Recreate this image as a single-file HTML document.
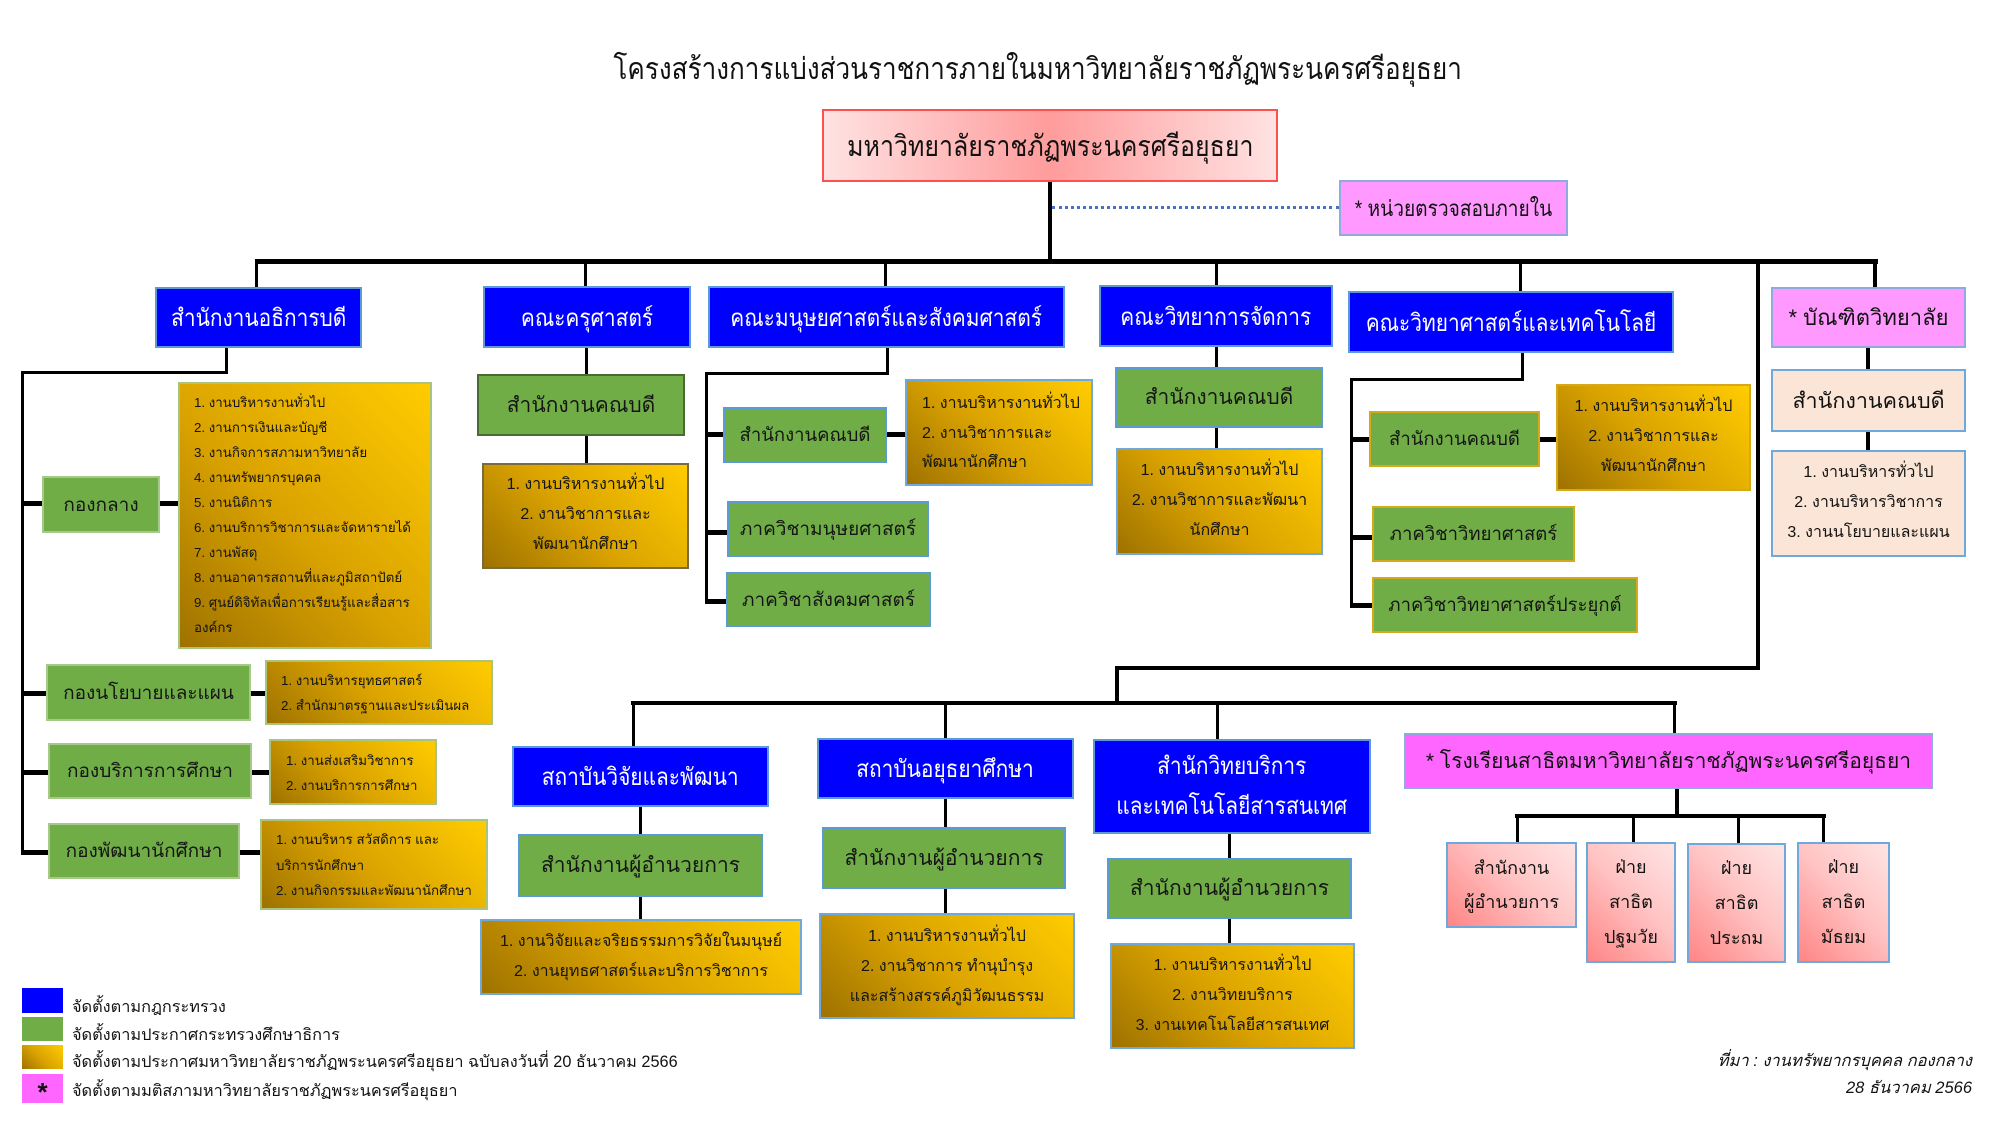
<!DOCTYPE html>
<html><head><meta charset="utf-8">
<style>
*{margin:0;padding:0;box-sizing:border-box}
body{width:2000px;height:1125px;background:#fff;position:relative;overflow:hidden;font-family:"Liberation Sans","Noto Sans CJK SC",sans-serif;color:#111}
.a{position:absolute}
.k{position:absolute;background:#000}
.bx{position:absolute;display:flex;align-items:center;justify-content:center;text-align:center;white-space:nowrap}
.c{display:inline-block;transform:scaleX(.87);transform-origin:center}
.blue{background:#0000ff;border:2px solid #5b9bd5;color:#fff;font-size:24px}
.grn{background:#70ad47;font-size:21px;color:#151515}
.gd{border:2px solid #5b9bd5}
.gk{border:2px solid #4a6b34}
.gg{border:2px solid #d6a81c}
.gl{border:2px solid #a6c98a}
.gold{position:absolute;background:linear-gradient(45deg,#9e7200 0%,#d9a200 45%,#ffcc00 100%);color:#141414;white-space:nowrap}
.pink{background:#ff99ff;border:2px solid #8faadc;font-size:22px;color:#111}
.beige{background:#fbe5d6;border:2px solid #6fa8dc;color:#111}
.sal{background:linear-gradient(45deg,#ff8585 0%,#ffc4c4 55%,#ffe4e4 100%);border:2px solid #6fa8dc;font-size:18px;color:#111;flex-direction:column}
</style></head><body>

<!-- Title -->
<div class="a" style="left:460px;top:48px;width:1156px;text-align:center;font-size:30px;line-height:44px;white-space:nowrap"><span class="c">โครงสร้างการแบ่งส่วนราชการภายในมหาวิทยาลัยราชภัฏพระนครศรีอยุธยา</span></div>

<!-- Main box -->
<div class="bx" style="left:822px;top:109px;width:456px;height:73px;background:linear-gradient(90deg,#ffe2e2 0%,#ff9c9c 50%,#ffe2e2 100%);border:2px solid #ff5050;font-size:29px"><span class="c" style="transform:scaleX(.86)">มหาวิทยาลัยราชภัฏพระนครศรีอยุธยา</span></div>

<div class="k" style="left:1048px;top:182px;width:4px;height:81px"></div>
<div class="a" style="left:1052px;top:206px;width:287px;height:0;border-top:3px dotted #4472c4"></div>
<div class="bx pink" style="left:1339px;top:180px;width:229px;height:56px"><span class="c">* หน่วยตรวจสอบภายใน</span></div>

<!-- top bus -->
<div class="k" style="left:255px;top:259px;width:1623px;height:5px"></div>
<div class="k" style="left:255px;top:261px;width:3px;height:26px"></div>
<div class="k" style="left:584px;top:261px;width:3px;height:25px"></div>
<div class="k" style="left:884px;top:261px;width:3px;height:25px"></div>
<div class="k" style="left:1215px;top:261px;width:3px;height:24px"></div>
<div class="k" style="left:1519px;top:261px;width:3px;height:30px"></div>
<div class="k" style="left:1756px;top:261px;width:4px;height:409px"></div>
<div class="k" style="left:1873px;top:261px;width:4px;height:26px"></div>

<!-- Row 1 boxes -->
<div class="bx blue" style="left:155px;top:287px;width:207px;height:61px"><span class="c">สำนักงานอธิการบดี</span></div>
<div class="bx blue" style="left:483px;top:286px;width:208px;height:62px"><span class="c">คณะครุศาสตร์</span></div>
<div class="bx blue" style="left:708px;top:286px;width:357px;height:62px"><span class="c">คณะมนุษยศาสตร์และสังคมศาสตร์</span></div>
<div class="bx blue" style="left:1099px;top:285px;width:234px;height:62px"><span class="c">คณะวิทยาการจัดการ</span></div>
<div class="bx blue" style="left:1348px;top:291px;width:326px;height:62px"><span class="c">คณะวิทยาศาสตร์และเทคโนโลยี</span></div>
<div class="bx pink" style="left:1771px;top:287px;width:195px;height:61px;font-size:22px">* บัณฑิตวิทยาลัย</div>

<!-- Left column (สำนักงานอธิการบดี) -->
<div class="k" style="left:225px;top:348px;width:3px;height:26px"></div>
<div class="k" style="left:21px;top:371px;width:207px;height:3px"></div>
<div class="k" style="left:21px;top:371px;width:3px;height:483px"></div>
<div class="k" style="left:21px;top:501px;width:21px;height:5px"></div>
<div class="k" style="left:21px;top:691px;width:25px;height:5px"></div>
<div class="k" style="left:21px;top:770px;width:27px;height:5px"></div>
<div class="k" style="left:21px;top:850px;width:27px;height:5px"></div>

<div class="bx grn gl" style="left:42px;top:476px;width:118px;height:57px;font-size:19px">กองกลาง</div>
<div class="k" style="left:160px;top:501px;width:19px;height:5px"></div>
<div class="gold" style="left:178px;top:382px;width:254px;height:267px;border:2px solid #a9c47f;font-size:13.3px;line-height:25px;padding:6px 0 0 14px">1. งานบริหารงานทั่วไป<br>2. งานการเงินและบัญชี<br>3. งานกิจการสภามหาวิทยาลัย<br>4. งานทรัพยากรบุคคล<br>5. งานนิติการ<br>6. งานบริการวิชาการและจัดหารายได้<br>7. งานพัสดุ<br>8. งานอาคารสถานที่และภูมิสถาปัตย์<br>9. ศูนย์ดิจิทัลเพื่อการเรียนรู้และสื่อสาร<br>องค์กร</div>

<div class="bx grn gl" style="left:46px;top:664px;width:205px;height:57px;font-size:19px">กองนโยบายและแผน</div>
<div class="k" style="left:251px;top:691px;width:14px;height:5px"></div>
<div class="gold" style="left:265px;top:660px;width:228px;height:65px;border:2px solid #a9c47f;font-size:13.3px;line-height:25px;padding:6px 0 0 14px">1. งานบริหารยุทธศาสตร์<br>2. สำนักมาตรฐานและประเมินผล</div>

<div class="bx grn gl" style="left:48px;top:743px;width:204px;height:56px;font-size:19px">กองบริการการศึกษา</div>
<div class="k" style="left:252px;top:770px;width:17px;height:5px"></div>
<div class="gold" style="left:269px;top:739px;width:168px;height:66px;border:2px solid #a9c47f;font-size:13.3px;line-height:25px;padding:7px 0 0 15px">1. งานส่งเสริมวิชาการ<br>2. งานบริการการศึกษา</div>

<div class="bx grn gl" style="left:48px;top:823px;width:192px;height:56px;font-size:19px">กองพัฒนานักศึกษา</div>
<div class="k" style="left:240px;top:850px;width:20px;height:5px"></div>
<div class="gold" style="left:260px;top:819px;width:228px;height:91px;border:2px solid #a9c47f;font-size:13.3px;line-height:25.5px;padding:6px 0 0 14px">1. งานบริหาร สวัสดิการ และ<br>บริการนักศึกษา<br>2. งานกิจกรรมและพัฒนานักศึกษา</div>

<!-- คณะครุศาสตร์ -->
<div class="k" style="left:585px;top:348px;width:3px;height:26px"></div>
<div class="bx grn gk" style="left:477px;top:374px;width:208px;height:62px">สำนักงานคณบดี</div>
<div class="k" style="left:585px;top:436px;width:3px;height:27px"></div>
<div class="gold" style="left:482px;top:463px;width:207px;height:106px;border:2px solid #7a6a40;font-size:16px;line-height:30px;padding-top:5px;text-align:center">1. งานบริหารงานทั่วไป<br>2. งานวิชาการและ<br>พัฒนานักศึกษา</div>

<!-- คณะมนุษยศาสตร์ -->
<div class="k" style="left:886px;top:348px;width:3px;height:26px"></div>
<div class="k" style="left:705px;top:372px;width:184px;height:3px"></div>
<div class="k" style="left:705px;top:372px;width:3px;height:231px"></div>
<div class="k" style="left:705px;top:432px;width:18px;height:5px"></div>
<div class="k" style="left:705px;top:530px;width:22px;height:5px"></div>
<div class="k" style="left:705px;top:599px;width:21px;height:5px"></div>
<div class="bx grn gd" style="left:723px;top:407px;width:164px;height:56px;font-size:18.5px">สำนักงานคณบดี</div>
<div class="k" style="left:887px;top:432px;width:19px;height:5px"></div>
<div class="gold" style="left:905px;top:379px;width:188px;height:107px;border:2px solid #6fa8dc;font-size:16px;line-height:29.5px;padding:8px 0 0 15px">1. งานบริหารงานทั่วไป<br>2. งานวิชาการและ<br>พัฒนานักศึกษา</div>
<div class="bx grn gd" style="left:727px;top:501px;width:202px;height:56px;font-size:19px">ภาควิชามนุษยศาสตร์</div>
<div class="bx grn gd" style="left:726px;top:572px;width:205px;height:55px;font-size:19px">ภาควิชาสังคมศาสตร์</div>

<!-- คณะวิทยาการจัดการ -->
<div class="k" style="left:1215px;top:347px;width:3px;height:20px"></div>
<div class="bx grn gd" style="left:1115px;top:367px;width:208px;height:61px">สำนักงานคณบดี</div>
<div class="k" style="left:1215px;top:428px;width:3px;height:20px"></div>
<div class="gold" style="left:1116px;top:448px;width:207px;height:107px;border:2px solid #6fa8dc;font-size:16px;line-height:30px;padding-top:6px;text-align:center">1. งานบริหารงานทั่วไป<br>2. งานวิชาการและพัฒนา<br>นักศึกษา</div>

<!-- คณะวิทยาศาสตร์ -->
<div class="k" style="left:1521px;top:353px;width:3px;height:28px"></div>
<div class="k" style="left:1350px;top:378px;width:174px;height:3px"></div>
<div class="k" style="left:1350px;top:378px;width:3px;height:229px"></div>
<div class="k" style="left:1350px;top:437px;width:19px;height:5px"></div>
<div class="k" style="left:1350px;top:535px;width:22px;height:5px"></div>
<div class="k" style="left:1350px;top:603px;width:22px;height:5px"></div>
<div class="bx grn gg" style="left:1369px;top:411px;width:171px;height:56px;font-size:18.5px">สำนักงานคณบดี</div>
<div class="k" style="left:1540px;top:437px;width:16px;height:5px"></div>
<div class="gold" style="left:1556px;top:384px;width:195px;height:107px;border:2px solid #d6a81c;font-size:16px;line-height:30px;padding-top:6px;text-align:center">1. งานบริหารงานทั่วไป<br>2. งานวิชาการและ<br>พัฒนานักศึกษา</div>
<div class="bx grn gg" style="left:1372px;top:506px;width:203px;height:56px;font-size:18.5px">ภาควิชาวิทยาศาสตร์</div>
<div class="bx grn gg" style="left:1372px;top:577px;width:266px;height:56px;font-size:18.5px">ภาควิชาวิทยาศาสตร์ประยุกต์</div>

<!-- บัณฑิตวิทยาลัย -->
<div class="k" style="left:1866px;top:348px;width:4px;height:21px"></div>
<div class="bx beige" style="left:1771px;top:369px;width:195px;height:63px;font-size:21.5px">สำนักงานคณบดี</div>
<div class="k" style="left:1866px;top:432px;width:4px;height:18px"></div>
<div class="gold beige" style="left:1771px;top:450px;width:195px;height:107px;background:#fbe5d6;font-size:16px;line-height:30px;padding-top:6px;text-align:center">1. งานบริหารทั่วไป<br>2. งานบริหารวิชาการ<br>3. งานนโยบายและแผน</div>

<!-- lower connectors -->
<div class="k" style="left:1115px;top:666px;width:645px;height:4px"></div>
<div class="k" style="left:1115px;top:666px;width:4px;height:39px"></div>
<div class="k" style="left:631px;top:701px;width:1046px;height:4px"></div>
<div class="k" style="left:632px;top:703px;width:3px;height:43px"></div>
<div class="k" style="left:944px;top:703px;width:3px;height:35px"></div>
<div class="k" style="left:1216px;top:703px;width:3px;height:36px"></div>
<div class="k" style="left:1673px;top:703px;width:3px;height:30px"></div>

<!-- สถาบันวิจัยและพัฒนา -->
<div class="bx blue" style="left:512px;top:746px;width:257px;height:61px"><span class="c">สถาบันวิจัยและพัฒนา</span></div>
<div class="k" style="left:639px;top:807px;width:3px;height:27px"></div>
<div class="bx grn gd" style="left:518px;top:834px;width:245px;height:63px">สำนักงานผู้อำนวยการ</div>
<div class="k" style="left:639px;top:897px;width:3px;height:22px"></div>
<div class="gold" style="left:480px;top:919px;width:322px;height:76px;border:2px solid #6fa8dc;font-size:16px;line-height:30px;padding-top:6px;text-align:center">1. งานวิจัยและจริยธรรมการวิจัยในมนุษย์<br>2. งานยุทธศาสตร์และบริการวิชาการ</div>

<!-- สถาบันอยุธยาศึกษา -->
<div class="bx blue" style="left:817px;top:738px;width:257px;height:61px"><span class="c">สถาบันอยุธยาศึกษา</span></div>
<div class="k" style="left:944px;top:799px;width:3px;height:28px"></div>
<div class="bx grn gd" style="left:822px;top:827px;width:244px;height:62px">สำนักงานผู้อำนวยการ</div>
<div class="k" style="left:944px;top:889px;width:3px;height:24px"></div>
<div class="gold" style="left:819px;top:913px;width:256px;height:106px;border:2px solid #6fa8dc;font-size:16px;line-height:30px;padding-top:7px;text-align:center">1. งานบริหารงานทั่วไป<br>2. งานวิชาการ ทำนุบำรุง<br>และสร้างสรรค์ภูมิวัฒนธรรม</div>

<!-- สำนักวิทยบริการ -->
<div class="bx blue" style="left:1093px;top:739px;width:278px;height:95px;line-height:40px"><span class="c">สำนักวิทยบริการ<br>และเทคโนโลยีสารสนเทศ</span></div>
<div class="k" style="left:1228px;top:834px;width:3px;height:24px"></div>
<div class="bx grn gd" style="left:1107px;top:858px;width:245px;height:61px">สำนักงานผู้อำนวยการ</div>
<div class="k" style="left:1228px;top:919px;width:3px;height:24px"></div>
<div class="gold" style="left:1110px;top:943px;width:245px;height:106px;border:2px solid #6fa8dc;font-size:16px;line-height:30px;padding-top:6px;text-align:center">1. งานบริหารงานทั่วไป<br>2. งานวิทยบริการ<br>3. งานเทคโนโลยีสารสนเทศ</div>

<!-- โรงเรียนสาธิต -->
<div class="bx" style="left:1404px;top:733px;width:529px;height:56px;background:#ff66ff;border:2px solid #8faadc;font-size:21px;color:#111">* โรงเรียนสาธิตมหาวิทยาลัยราชภัฏพระนครศรีอยุธยา</div>
<div class="k" style="left:1675px;top:789px;width:4px;height:28px"></div>
<div class="k" style="left:1515px;top:814px;width:311px;height:4px"></div>
<div class="k" style="left:1516px;top:816px;width:3px;height:26px"></div>
<div class="k" style="left:1632px;top:816px;width:3px;height:26px"></div>
<div class="k" style="left:1737px;top:816px;width:3px;height:27px"></div>
<div class="k" style="left:1822px;top:816px;width:3px;height:26px"></div>
<div class="bx sal" style="left:1446px;top:842px;width:131px;height:86px;line-height:34px">สำนักงาน<br>ผู้อำนวยการ</div>
<div class="bx sal" style="left:1586px;top:842px;width:90px;height:121px;line-height:35px">ฝ่าย<br>สาธิต<br>ปฐมวัย</div>
<div class="bx sal" style="left:1687px;top:843px;width:99px;height:120px;line-height:35px">ฝ่าย<br>สาธิต<br>ประถม</div>
<div class="bx sal" style="left:1797px;top:842px;width:93px;height:121px;line-height:35px">ฝ่าย<br>สาธิต<br>มัธยม</div>

<!-- Legend -->
<div class="a" style="left:22px;top:988px;width:41px;height:25px;background:#0000ff"></div>
<div class="a" style="left:22px;top:1017px;width:41px;height:24px;background:#70ad47"></div>
<div class="a" style="left:22px;top:1045px;width:41px;height:24px;background:linear-gradient(45deg,#9e7200,#d9a200 45%,#ffcc00)"></div>
<div class="bx" style="left:22px;top:1074px;width:41px;height:29px;background:#ff66ff;font-size:26px;font-weight:bold;color:#111;line-height:29px;padding-top:8px">*</div>
<div class="a" style="left:72px;top:995px;font-size:16.3px;line-height:24px;white-space:nowrap">จัดตั้งตามกฎกระทรวง</div>
<div class="a" style="left:72px;top:1023px;font-size:16.3px;line-height:24px;white-space:nowrap">จัดตั้งตามประกาศกระทรวงศึกษาธิการ</div>
<div class="a" style="left:72px;top:1050px;font-size:16.3px;line-height:24px;white-space:nowrap">จัดตั้งตามประกาศมหาวิทยาลัยราชภัฏพระนครศรีอยุธยา ฉบับลงวันที่ 20 ธันวาคม 2566</div>
<div class="a" style="left:72px;top:1079px;font-size:16.3px;line-height:24px;white-space:nowrap">จัดตั้งตามมติสภามหาวิทยาลัยราชภัฏพระนครศรีอยุธยา</div>

<!-- Source -->
<div class="a" style="right:28px;top:1048px;font-size:16.5px;line-height:27px;font-style:italic;text-align:right;white-space:nowrap">ที่มา : งานทรัพยากรบุคคล กองกลาง<br>28 ธันวาคม 2566</div>

</body></html>
